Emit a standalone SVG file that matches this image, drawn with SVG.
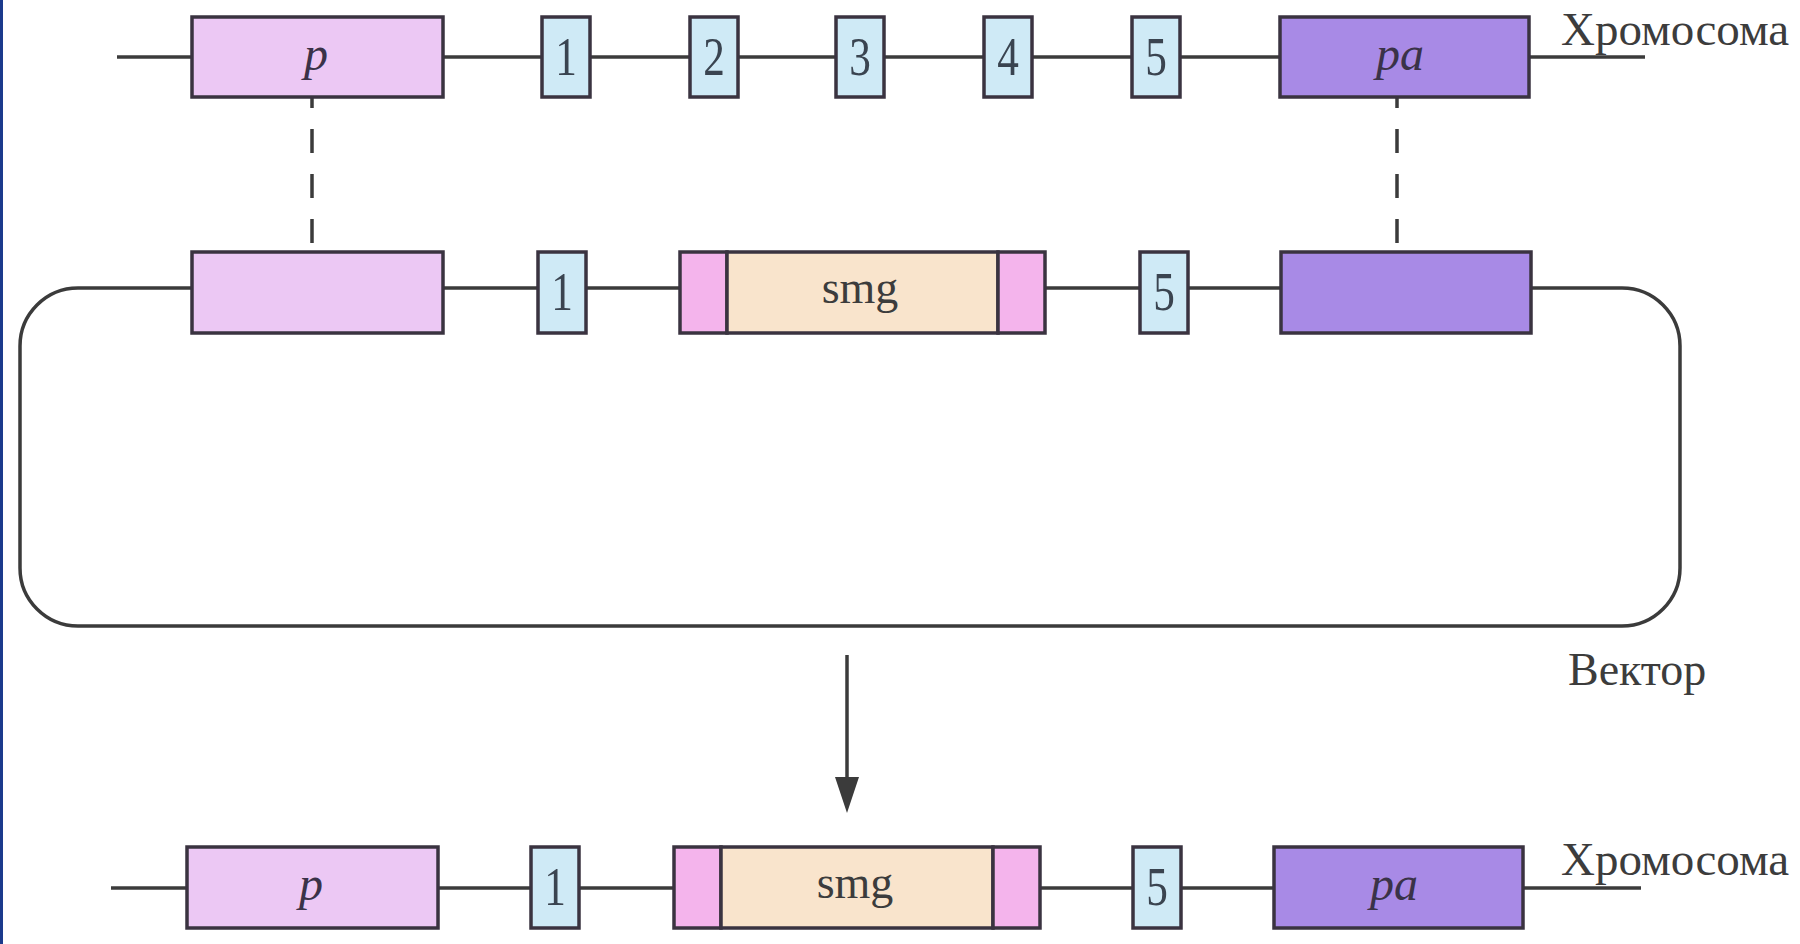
<svg xmlns="http://www.w3.org/2000/svg" width="1800" height="944" viewBox="0 0 1800 944">
<defs>
<style>
.bg{fill:#ffffff}
.ln{stroke:#3b3b3b;stroke-width:3.5;fill:none}
.dash{stroke:#3b3b3b;stroke-width:3.5;fill:none;stroke-dasharray:24 21;stroke-dashoffset:13}
.box{stroke:#3a3340;stroke-width:3.5}
.prom{fill:#ecc8f4}
.pa{fill:#a88ae6}
.ex{fill:#cfeaf6}
.smg{fill:#f9e4cc}
.fl{fill:#f4b4ec}
.lbl{font-family:"Liberation Serif","Times New Roman",serif;fill:#3c3c3c}
.it{font-family:"Liberation Serif","Times New Roman",serif;font-style:italic;fill:#3a3248;font-size:48px;text-anchor:middle}
.dg{font-family:"Liberation Serif","Times New Roman",serif;fill:#3a4450;font-size:54px;text-anchor:middle}
</style>
</defs>
<rect class="bg" x="0" y="0" width="1800" height="944"/>
<rect x="0" y="0" width="3" height="944" fill="#1b3a8c"/>

<g id="connectors">
<line class="ln" x1="117" y1="57" x2="1645" y2="57"/>
<rect class="ln" x="20" y="288" width="1660" height="338" rx="58" ry="58"/>
<line class="ln" x1="111" y1="888" x2="1641" y2="888"/>
<line class="dash" x1="312" y1="97" x2="312" y2="251"/>
<line class="dash" x1="1397" y1="97" x2="1397" y2="251"/>
<line class="ln" x1="847" y1="655" x2="847" y2="785"/>
<polygon points="835,777 859,777 847,813" fill="#3b3b3b"/>
</g>

<!-- top chromosome -->
<g id="top-p"><rect class="box prom" x="192" y="17" width="251" height="80"/><text class="it" x="316" y="70">p</text></g>
<g id="top-e1"><rect class="box ex" x="542" y="17" width="48" height="80"/><text class="dg" transform="translate(566,75) scale(0.8,1)">1</text></g>
<g id="top-e2"><rect class="box ex" x="690" y="17" width="48" height="80"/><text class="dg" transform="translate(714,75) scale(0.8,1)">2</text></g>
<g id="top-e3"><rect class="box ex" x="836" y="17" width="48" height="80"/><text class="dg" transform="translate(860,75) scale(0.8,1)">3</text></g>
<g id="top-e4"><rect class="box ex" x="984" y="17" width="48" height="80"/><text class="dg" transform="translate(1008,75) scale(0.8,1)">4</text></g>
<g id="top-e5"><rect class="box ex" x="1132" y="17" width="48" height="80"/><text class="dg" transform="translate(1156,75) scale(0.8,1)">5</text></g>
<g id="top-pa"><rect class="box pa" x="1280" y="17" width="249" height="80"/><text class="it" x="1400" y="70">pa</text></g>
<g id="label-chrom-top"><text class="lbl" x="1561" y="45" font-size="47">Хромосома</text></g>

<!-- vector -->
<g id="vec-p"><rect class="box prom" x="192" y="252" width="251" height="81"/></g>
<g id="vec-e1"><rect class="box ex" x="538" y="252" width="48" height="81"/><text class="dg" transform="translate(562,310) scale(0.8,1)">1</text></g>
<g id="vec-smg">
<rect class="box fl" x="680" y="252" width="47" height="81"/>
<rect class="box smg" x="727" y="252" width="271" height="81"/>
<rect class="box fl" x="998" y="252" width="47" height="81"/>
<text class="lbl" x="860" y="303" font-size="46" text-anchor="middle">smg</text>
</g>
<g id="vec-e5"><rect class="box ex" x="1140" y="252" width="48" height="81"/><text class="dg" transform="translate(1164,310) scale(0.8,1)">5</text></g>
<g id="vec-pa"><rect class="box pa" x="1281" y="252" width="250" height="81"/></g>
<g id="label-vector"><text class="lbl" x="1568" y="685" font-size="46">Вектор</text></g>

<!-- bottom chromosome -->
<g id="bot-p"><rect class="box prom" x="187" y="847" width="251" height="81"/><text class="it" x="311" y="900">p</text></g>
<g id="bot-e1"><rect class="box ex" x="531" y="847" width="48" height="81"/><text class="dg" transform="translate(555,905) scale(0.8,1)">1</text></g>
<g id="bot-smg">
<rect class="box fl" x="674" y="847" width="47" height="81"/>
<rect class="box smg" x="721" y="847" width="272" height="81"/>
<rect class="box fl" x="993" y="847" width="47" height="81"/>
<text class="lbl" x="855" y="898" font-size="46" text-anchor="middle">smg</text>
</g>
<g id="bot-e5"><rect class="box ex" x="1133" y="847" width="48" height="81"/><text class="dg" transform="translate(1157,905) scale(0.8,1)">5</text></g>
<g id="bot-pa"><rect class="box pa" x="1274" y="847" width="249" height="81"/><text class="it" x="1394" y="900">pa</text></g>
<g id="label-chrom-bot"><text class="lbl" x="1561" y="875" font-size="47">Хромосома</text></g>
</svg>
